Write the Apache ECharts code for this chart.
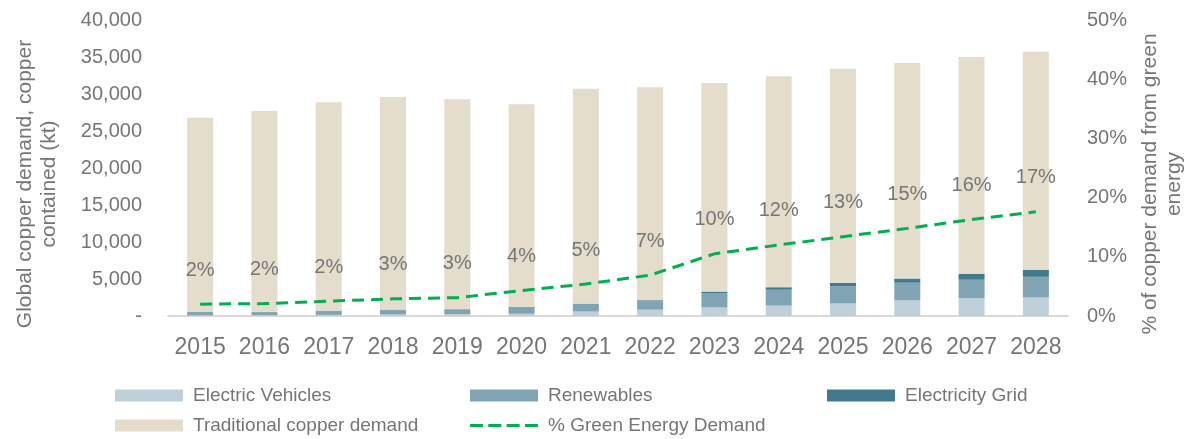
<!DOCTYPE html>
<html>
<head>
<meta charset="utf-8">
<script src="https://cdn.jsdelivr.net/npm/echarts@6/dist/echarts.min.js"></script>
<style>
  html, body { margin: 0; padding: 0; background: #fff; }
  #chart { width: 1188px; height: 439px; }
</style>
</head>
<body>
<div id="chart"></div>
<script>
// data (kt)
const years = ['2015', '2016', '2017', '2018', '2019', '2020', '2021', '2022', '2023', '2024', '2025', '2026', '2027', '2028']
const electricVehicles = [100, 120, 150, 200, 250, 300, 600, 850, 1150, 1400, 1700, 2100, 2400, 2500]
const renewables = [380, 380, 500, 580, 580, 850, 950, 1130, 1950, 2150, 2350, 2400, 2500, 2800]
const electricityGrid = [60, 60, 70, 80, 80, 90, 110, 150, 200, 340, 430, 560, 800, 950]
const traditional = [26260, 27140, 28180, 28740, 28390, 27360, 29040, 28770, 28200, 28510, 28920, 29140, 29300, 29450]
const greenPct = [2.0, 2.1, 2.5, 2.9, 3.1, 4.3, 5.4, 6.9, 10.5, 12.0, 13.4, 14.8, 16.3, 17.6]
const greenPctLabels = ['2%', '2%', '2%', '3%', '3%', '4%', '5%', '7%', '10%', '12%', '13%', '15%', '16%', '17%']

const textColor = '#767676'
const font = 'Liberation Sans'

const colors = {
  ev: '#bfd0d8',
  ren: '#80a4b4',
  grid: '#41798e',
  trad: '#e4ddcb',
  line: '#00b050'
}

const chart = echarts.init(document.getElementById('chart'))

// one legend per item so the columns line up like the original
function legendItem(name, left, top, icon, h) {
  return {
    data: [{ name: name, icon: icon || 'rect' }],
    left: left,
    top: top,
    padding: 0,
    itemWidth: 68,
    itemHeight: h || 12,
    textStyle: { color: textColor, fontSize: 19, fontFamily: font, padding: [0, 0, 0, 5] },
    selectedMode: false
  }
}

const dashIcon = 'path://M0,0 h13 v3 h-13 Z M18.3,0 h13 v3 h-13 Z M36.6,0 h13 v3 h-13 Z M55,0 h13 v3 h-13 Z'

const option = {
  animation: false,
  grid: {
    left: 168,
    right: 120,
    top: 20,
    bottom: 123,
    outerBoundsMode: 'none'
  },
  legend: [
    legendItem('Electric Vehicles', 115, 386),
    legendItem('Renewables', 470, 386),
    legendItem('Electricity Grid', 827, 386),
    legendItem('Traditional copper demand', 115, 416),
    legendItem('% Green Energy Demand', 470, 416, dashIcon, 3)
  ],
  xAxis: {
    type: 'category',
    data: years,
    axisTick: { show: false },
    axisLine: { lineStyle: { color: '#d9d9d9', width: 2 } },
    axisLabel: { color: textColor, fontSize: 23, fontFamily: font, margin: 20, interval: 0 }
  },
  yAxis: [
    {
      type: 'value',
      min: 0,
      max: 40000,
      interval: 5000,
      splitLine: { show: false },
      axisLine: { show: false },
      axisTick: { show: false },
      axisLabel: {
        color: textColor,
        fontSize: 20,
        fontFamily: font,
        margin: 26,
        formatter: v => v === 0 ? '-' : v.toLocaleString('en-US')
      },
      name: 'Global copper demand, copper\ncontained (kt)',
      nameLocation: 'middle',
      nameRotate: 90,
      nameGap: 107,
      nameTextStyle: { color: textColor, fontSize: 21, fontFamily: font, lineHeight: 24, padding: [0, 32, 0, 0] }
    },
    {
      type: 'value',
      min: 0,
      max: 50,
      interval: 10,
      splitLine: { show: false },
      axisLine: { show: false },
      axisTick: { show: false },
      axisLabel: {
        color: textColor,
        fontSize: 20,
        fontFamily: font,
        margin: 19,
        formatter: '{value}%'
      },
      name: '% of copper demand from green\nenergy',
      nameLocation: 'middle',
      nameRotate: 90,
      nameGap: 70,
      nameTextStyle: { color: textColor, fontSize: 21, fontFamily: font, lineHeight: 24, padding: [0, 32, 0, 0] }
    }
  ],
  series: [
    {
      name: 'Electric Vehicles',
      type: 'bar',
      stack: 'total',
      barWidth: 26,
      itemStyle: { color: colors.ev },
      data: electricVehicles
    },
    {
      name: 'Renewables',
      type: 'bar',
      stack: 'total',
      itemStyle: { color: colors.ren },
      data: renewables
    },
    {
      name: 'Electricity Grid',
      type: 'bar',
      stack: 'total',
      itemStyle: { color: colors.grid },
      data: electricityGrid
    },
    {
      name: 'Traditional copper demand',
      type: 'bar',
      stack: 'total',
      itemStyle: { color: colors.trad },
      data: traditional
    },
    {
      name: '% Green Energy Demand',
      type: 'line',
      yAxisIndex: 1,
      symbol: 'circle',
      symbolSize: 0,
      showSymbol: true,
      z: 5,
      itemStyle: { color: colors.line },
      lineStyle: { color: colors.line, width: 3, type: [12, 7] },
      label: {
        show: true,
        position: 'top',
        distance: 24,
        color: textColor,
        fontSize: 20,
        fontFamily: font,
        formatter: p => greenPctLabels[p.dataIndex]
      },
      labelLayout: { hideOverlap: false },
      data: greenPct
    }
  ]
}

chart.setOption(option)
</script>
</body>
</html>
